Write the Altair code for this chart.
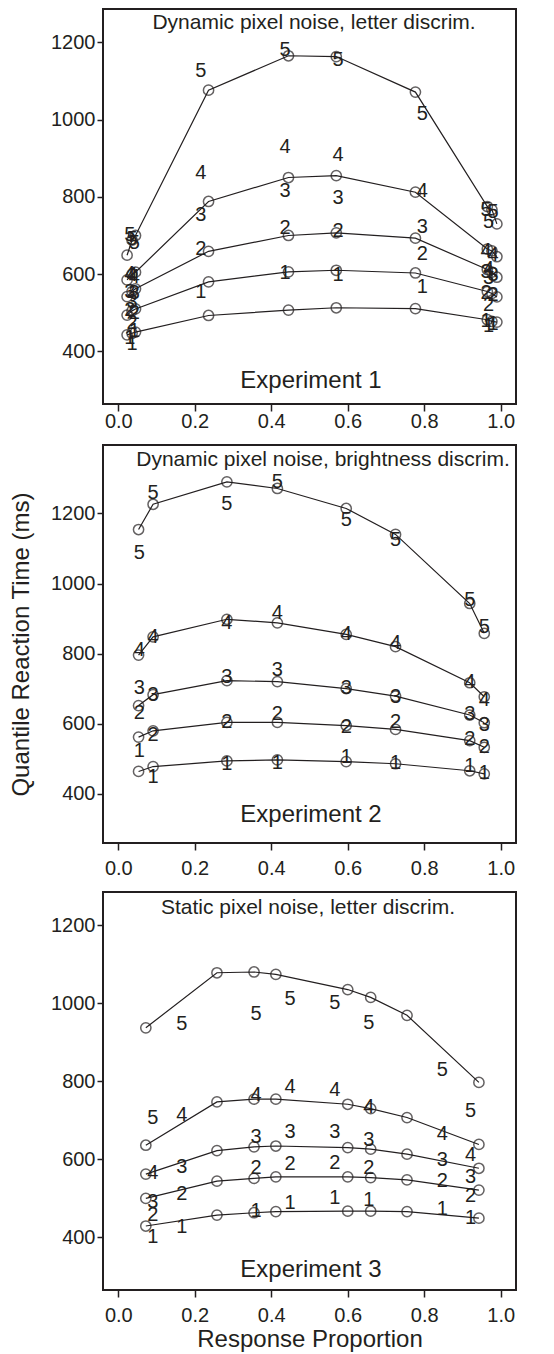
import altair as alt
import pandas as pd

QUANTILES = ["1", "2", "3", "4", "5"]

# ---------------- Experiment 1 ----------------
e1_model_x = [0.023, 0.036, 0.045, 0.236, 0.445, 0.570, 0.777, 0.965, 0.977, 0.990]
e1_model = {
    "1": [443, 447, 450, 493, 507, 513, 511, 482, 478, 476],
    "2": [494, 505, 510, 580, 606, 610, 603, 555, 550, 541],
    "3": [542, 555, 562, 659, 700, 707, 693, 612, 605, 592],
    "4": [585, 600, 605, 788, 850, 855, 812, 665, 660, 645],
    "5": [649, 688, 700, 1076, 1165, 1163, 1071, 775, 767, 730],
}
e1_data_x = [0.030, 0.036, 0.042, 0.216, 0.436, 0.575, 0.795, 0.962, 0.968, 0.980]
e1_data = {
    "1": [434, 418, 452, 554, 602, 597, 567, 480, 465, 470],
    "2": [508, 473, 500, 666, 719, 711, 653, 552, 521, 545],
    "3": [554, 529, 550, 752, 814, 796, 722, 605, 590, 598],
    "4": [600, 598, 592, 862, 928, 908, 816, 660, 612, 650],
    "5": [700, 690, 680, 1125, 1180, 1155, 1014, 765, 735, 760],
}

# ---------------- Experiment 2 ----------------
e2_model_x = [0.053, 0.091, 0.284, 0.416, 0.596, 0.725, 0.919, 0.957]
e2_model = {
    "1": [464, 478, 494, 497, 492, 486, 466, 457],
    "2": [562, 580, 604, 604, 595, 584, 552, 533],
    "3": [652, 683, 723, 720, 700, 679, 625, 603],
    "4": [796, 848, 898, 888, 855, 820, 717, 677],
    "5": [1154, 1226, 1290, 1271, 1214, 1140, 943, 858],
}
e2_data_x = [0.055, 0.091, 0.284, 0.416, 0.596, 0.725, 0.919, 0.957]
e2_data = {
    "1": [521, 448, 486, 489, 506, 489, 480, 459],
    "2": [632, 568, 604, 628, 592, 606, 556, 535],
    "3": [701, 682, 734, 753, 701, 677, 629, 597],
    "4": [810, 848, 887, 915, 855, 829, 720, 668],
    "5": [1086, 1257, 1228, 1290, 1181, 1124, 953, 877],
}

# ---------------- Experiment 3 ----------------
e3_model_x = [0.072, 0.258, 0.355, 0.412, 0.600, 0.660, 0.755, 0.943]
e3_model = {
    "1": [429, 457, 463, 466, 467, 467, 466, 449],
    "2": [500, 544, 551, 555, 555, 553, 547, 521],
    "3": [562, 622, 632, 634, 630, 626, 613, 577],
    "4": [636, 747, 754, 754, 741, 730, 707, 638],
    "5": [937, 1078, 1080, 1074, 1035, 1015, 969, 797],
}
e3_data_x = [0.090, 0.166, 0.360, 0.449, 0.566, 0.655, 0.847, 0.921]
e3_data = {
    "1": [400, 427, 468, 489, 502, 496, 472, 449],
    "2": [457, 511, 577, 589, 591, 577, 545, 506],
    "3": [491, 581, 658, 671, 671, 649, 598, 554],
    "4": [564, 713, 765, 784, 777, 733, 666, 611],
    "5": [705, 946, 972, 1012, 1001, 950, 830, 724],
}

PANEL_TITLES = [
    "Dynamic pixel noise, letter discrim.",
    "Dynamic pixel noise, brightness discrim.",
    "Static pixel noise, letter discrim.",
]
EXP_LABELS = ["Experiment 1", "Experiment 2", "Experiment 3"]
X_TICKS = [0.0, 0.2, 0.4, 0.6, 0.8, 1.0]
Y_TICKS = [400, 600, 800, 1000, 1200]

FONT = "Liberation Sans"
INK = "#231f20"


def to_long(xs, table):
    rows = []
    for q in QUANTILES:
        for x, v in zip(xs, table[q]):
            rows.append({"p": x, "rt": v, "q": q})
    return pd.DataFrame(rows)


def make_panel(model_x, model, data_x, data, ydom, height, title, title_x, title_y,
               exp_label, exp_y, ytitle, xtitle, xlabel_pad):
    mdf = to_long(model_x, model)
    ddf = to_long(data_x, data)
    xaxis_kw = dict(values=X_TICKS, format=".1f", labelPadding=xlabel_pad)
    if xtitle:
        xaxis_kw.update(title=xtitle, titlePadding=2)
    else:
        xaxis_kw.update(title=None)
    yaxis_kw = dict(values=Y_TICKS, format="d", labelPadding=2, tickSize=6)
    if ytitle:
        yaxis_kw.update(title=ytitle, titlePadding=17)
    else:
        yaxis_kw.update(title=None)
    x = alt.X("p:Q", scale=alt.Scale(domain=[-0.04, 1.04], nice=False, zero=False),
              axis=alt.Axis(**xaxis_kw))
    y = alt.Y("rt:Q", scale=alt.Scale(domain=ydom, nice=False, zero=False),
              axis=alt.Axis(**yaxis_kw))
    lines = alt.Chart(mdf).mark_line(color=INK, strokeWidth=1.2).encode(
        x=x, y=y, detail="q:N", order="p:Q")
    pts = alt.Chart(mdf).mark_point(shape="circle", filled=False, size=105,
                                    strokeWidth=1.5, color=INK).encode(x=x, y=y)
    txt = alt.Chart(ddf).mark_text(font=FONT, fontSize=20, color=INK,
                                   baseline="middle").encode(x=x, y=y, text="q:N")
    sub = alt.Chart(pd.DataFrame({"t": [title]})).mark_text(
        font=FONT, fontSize=21, color=INK, baseline="middle").encode(
        x=alt.value(title_x), y=alt.value(title_y), text="t:N")
    exp = alt.Chart(pd.DataFrame({"t": [exp_label]})).mark_text(
        font=FONT, fontSize=24, color=INK, baseline="middle").encode(
        x=alt.value(208), y=alt.value(exp_y), text="t:N")
    return alt.layer(lines, pts, txt, sub, exp).properties(width=413, height=height)


p1 = make_panel(e1_model_x, e1_model, e1_data_x, e1_data, [264, 1286], 395,
                PANEL_TITLES[0], 211, 14, EXP_LABELS[0], 372, None, None, 0)
p2 = make_panel(e2_model_x, e2_model, e2_data_x, e2_data, [260, 1395], 398,
                PANEL_TITLES[1], 220, 15, EXP_LABELS[1], 370,
                "Quantile Reaction Time (ms)", None, 8)
p3 = make_panel(e3_model_x, e3_model, e3_data_x, e3_data, [265, 1285], 398,
                PANEL_TITLES[2], 205, 16, EXP_LABELS[2], 378, None,
                "Response Proportion", 8)

chart = alt.vconcat(p1, p2, p3, spacing=12).properties(padding=0).configure_view(
    stroke=INK, strokeWidth=2
).configure_axis(
    grid=False, domain=False, ticks=True, tickColor=INK, tickWidth=1.5, tickSize=7,
    labelFont=FONT, labelFontSize=20, labelColor=INK,
    titleFont=FONT, titleFontSize=24, titleColor=INK, titleFontWeight="normal",
)

chart.save("out.html", embed_options={"renderer": "svg", "actions": False})
